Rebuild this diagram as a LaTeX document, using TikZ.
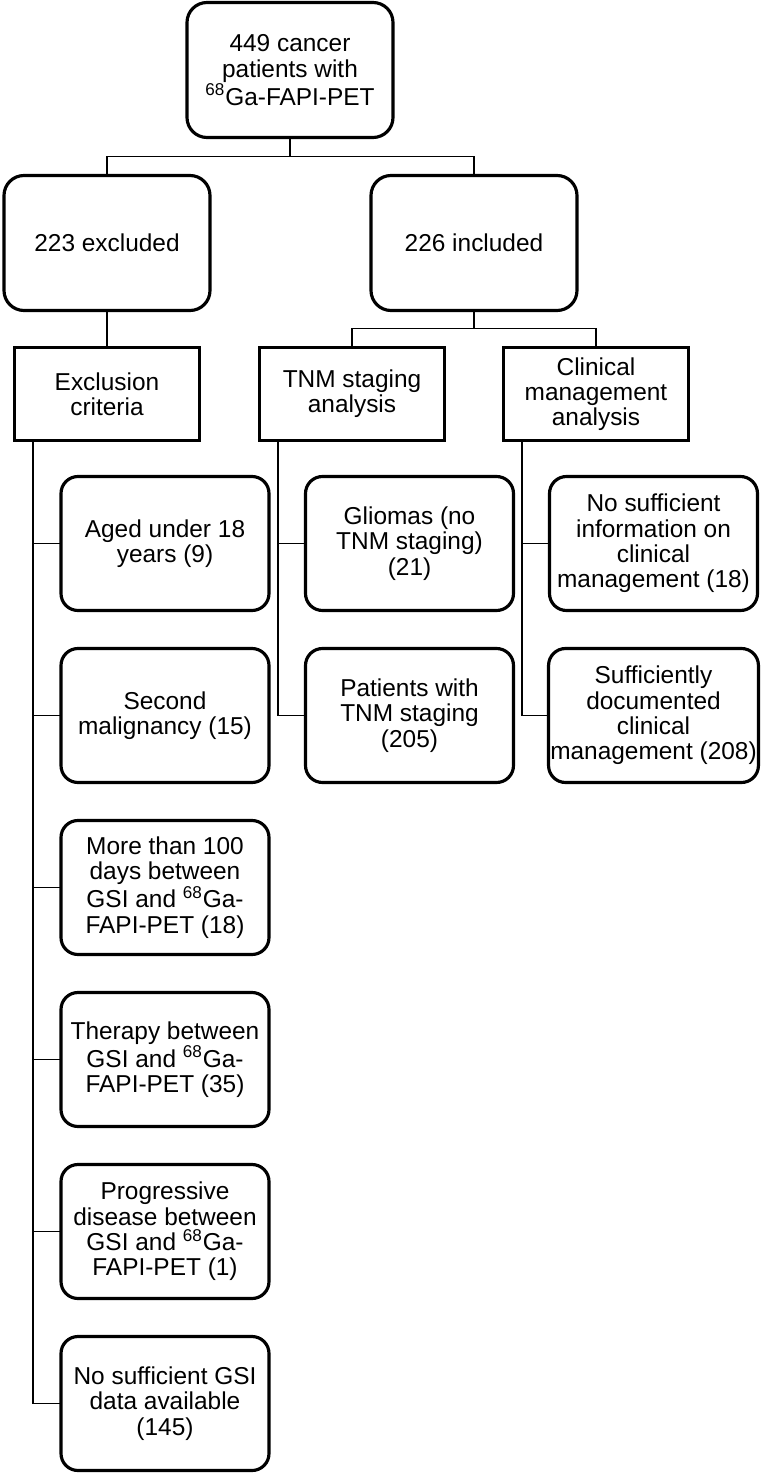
\documentclass[tikz,border=0pt]{standalone}
\usepackage{fontspec}
\setmainfont{Liberation Sans}
\usetikzlibrary{positioning}

\begin{document}
\begin{tikzpicture}[
  node distance=0.76cm,
  every node/.style={outer sep=0pt, font=\fontsize{13.9}{14.4}\selectfont},
  bigbox/.style={rectangle, rounded corners=0.4cm, draw, line width=1.8pt, minimum width=4.12cm, minimum height=2.7cm, align=center},
  headbox/.style={rectangle, draw, line width=1.8pt, minimum width=3.7cm, minimum height=1.86cm, align=center},
  itembox/.style={rectangle, rounded corners=0.34cm, draw, line width=1.8pt, minimum width=4.16cm, minimum height=2.68cm, inner sep=1pt, align=center},
  link/.style={line width=0.9pt},
]
\useasboundingbox (0,0) rectangle (15.2,-29.48);

\node[bigbox] (patients) at (5.8,-1.4) {449 cancer\\patients with\\\textsuperscript{68}Ga-FAPI-PET};
\node[bigbox, below=of patients, xshift=-3.66cm] (excluded) {223 excluded};
\node[bigbox, below=of patients, xshift=3.68cm] (included) {226 included};

\node[headbox, below=0.74cm of excluded] (criteria) {Exclusion\\criteria};
\node[headbox, below=0.74cm of included, xshift=-2.44cm] (tnm) {TNM staging\\analysis};
\node[headbox, below=0.74cm of included, xshift=2.44cm] (clinical) {Clinical\\management\\analysis};

\node[itembox, below=0.72cm of criteria, xshift=1.16cm] (aged) {Aged under 18\\years (9)};
\node[itembox, below=of aged] (second) {Second\\malignancy (15)};
\node[itembox, below=of second] (days) {More than 100\\days between\\GSI and \textsuperscript{68}Ga-\\FAPI-PET (18)};
\node[itembox, below=of days] (therapy) {Therapy between\\GSI and \textsuperscript{68}Ga-\\FAPI-PET (35)};
\node[itembox, below=of therapy] (progress) {Progressive\\disease between\\GSI and \textsuperscript{68}Ga-\\FAPI-PET (1)};
\node[itembox, below=of progress] (nodata) {No sufficient GSI\\data available\\(145)};

\node[itembox, below=0.72cm of tnm, xshift=1.15cm] (gliomas) {Gliomas (no\\TNM staging)\\(21)};
\node[itembox, below=of gliomas] (staged) {Patients with\\TNM staging\\(205)};

\node[itembox, below=0.72cm of clinical, xshift=1.15cm] (noinfo) {No sufficient\\information on\\clinical\\management (18)};
\node[itembox, below=of noinfo] (documented) {Sufficiently\\documented\\clinical\\management (208)};

\draw[link] (patients.south) -- ++(0,-0.38) -| (excluded.north);
\draw[link] (patients.south) -- ++(0,-0.38) -| (included.north);
\draw[link] (excluded) -- (criteria);
\draw[link] (included.south) -- ++(0,-0.36) -| (tnm.north);
\draw[link] (included.south) -- ++(0,-0.36) -| (clinical.north);

\draw[link] ([xshift=0.37cm]criteria.south west) |- (aged.west);
\draw[link] ([xshift=0.37cm]criteria.south west) |- (second.west);
\draw[link] ([xshift=0.37cm]criteria.south west) |- (days.west);
\draw[link] ([xshift=0.37cm]criteria.south west) |- (therapy.west);
\draw[link] ([xshift=0.37cm]criteria.south west) |- (progress.west);
\draw[link] ([xshift=0.37cm]criteria.south west) |- (nodata.west);

\draw[link] ([xshift=0.37cm]tnm.south west) |- (gliomas.west);
\draw[link] ([xshift=0.37cm]tnm.south west) |- (staged.west);

\draw[link] ([xshift=0.37cm]clinical.south west) |- (noinfo.west);
\draw[link] ([xshift=0.37cm]clinical.south west) |- (documented.west);
\end{tikzpicture}
\end{document}
